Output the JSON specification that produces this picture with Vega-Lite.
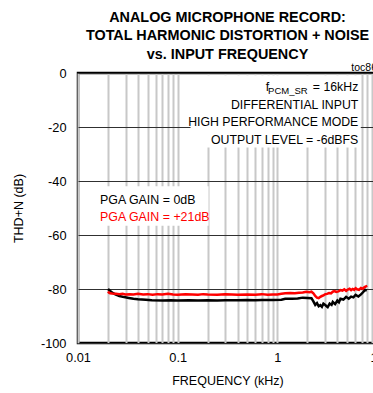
{
  "$schema": "https://vega.github.io/schema/vega-lite/v6.json",
  "width": 299,
  "height": 270,
  "autosize": {"type": "none"},
  "padding": {"left": 78, "top": 73, "right": 0, "bottom": 50},
  "background": "white",
  "config": {
    "font": "Liberation Sans",
    "view": {"stroke": "#000", "strokeWidth": 2.5},
    "axis": {
      "labelFont": "Liberation Sans",
      "titleFont": "Liberation Sans",
      "labelFontSize": 12.8,
      "titleFontSize": 12.5,
      "titleFontWeight": "normal",
      "labelColor": "#000",
      "titleColor": "#000",
      "domain": false,
      "ticks": false,
      "tickSize": 0
    }
  },
  "title": {
    "text": ["ANALOG MICROPHONE RECORD:", "TOTAL HARMONIC DISTORTION + NOISE", "vs. INPUT FREQUENCY"],
    "anchor": "middle",
    "frame": "group",
    "font": "Liberation Sans",
    "fontSize": 14.4,
    "fontWeight": "bold",
    "lineHeight": 18.5,
    "color": "#000",
    "offset": 1
  },
  "layer": [
    {
      "data": {"values": [
        {"series": "0dB", "freq": 0.02, "db": -80.0},
        {"series": "0dB", "freq": 0.021, "db": -80.7},
        {"series": "0dB", "freq": 0.022, "db": -81.3},
        {"series": "0dB", "freq": 0.0237, "db": -82.0},
        {"series": "0dB", "freq": 0.026, "db": -82.6},
        {"series": "0dB", "freq": 0.029, "db": -83.0},
        {"series": "0dB", "freq": 0.0323, "db": -83.3},
        {"series": "0dB", "freq": 0.036, "db": -83.6},
        {"series": "0dB", "freq": 0.04, "db": -83.8},
        {"series": "0dB", "freq": 0.0478, "db": -84.0},
        {"series": "0dB", "freq": 0.055, "db": -84.2},
        {"series": "0dB", "freq": 0.0707, "db": -84.3},
        {"series": "0dB", "freq": 0.085, "db": -84.2},
        {"series": "0dB", "freq": 0.1, "db": -84.3},
        {"series": "0dB", "freq": 0.13, "db": -84.2},
        {"series": "0dB", "freq": 0.16, "db": -84.3},
        {"series": "0dB", "freq": 0.2, "db": -84.2},
        {"series": "0dB", "freq": 0.25, "db": -84.3},
        {"series": "0dB", "freq": 0.3, "db": -84.2},
        {"series": "0dB", "freq": 0.4, "db": -84.2},
        {"series": "0dB", "freq": 0.5, "db": -84.1},
        {"series": "0dB", "freq": 0.6, "db": -84.2},
        {"series": "0dB", "freq": 0.7, "db": -84.1},
        {"series": "0dB", "freq": 0.9, "db": -84.1},
        {"series": "0dB", "freq": 1.1, "db": -84.0},
        {"series": "0dB", "freq": 1.2, "db": -83.6},
        {"series": "0dB", "freq": 1.4, "db": -83.6},
        {"series": "0dB", "freq": 1.6, "db": -83.5},
        {"series": "0dB", "freq": 1.8, "db": -83.2},
        {"series": "0dB", "freq": 2.0, "db": -83.3},
        {"series": "0dB", "freq": 2.2, "db": -83.4},
        {"series": "0dB", "freq": 2.3, "db": -84.6},
        {"series": "0dB", "freq": 2.4, "db": -85.9},
        {"series": "0dB", "freq": 2.5, "db": -85.2},
        {"series": "0dB", "freq": 2.6, "db": -86.4},
        {"series": "0dB", "freq": 2.7, "db": -86.0},
        {"series": "0dB", "freq": 2.8, "db": -86.6},
        {"series": "0dB", "freq": 2.9, "db": -85.4},
        {"series": "0dB", "freq": 3.0, "db": -85.8},
        {"series": "0dB", "freq": 3.1, "db": -86.3},
        {"series": "0dB", "freq": 3.2, "db": -86.7},
        {"series": "0dB", "freq": 3.35, "db": -85.4},
        {"series": "0dB", "freq": 3.5, "db": -85.9},
        {"series": "0dB", "freq": 3.6, "db": -84.8},
        {"series": "0dB", "freq": 3.8, "db": -85.6},
        {"series": "0dB", "freq": 4.0, "db": -84.3},
        {"series": "0dB", "freq": 4.15, "db": -84.9},
        {"series": "0dB", "freq": 4.3, "db": -83.6},
        {"series": "0dB", "freq": 4.6, "db": -83.9},
        {"series": "0dB", "freq": 4.9, "db": -82.9},
        {"series": "0dB", "freq": 5.2, "db": -83.6},
        {"series": "0dB", "freq": 5.5, "db": -82.8},
        {"series": "0dB", "freq": 5.8, "db": -83.1},
        {"series": "0dB", "freq": 6.1, "db": -82.2},
        {"series": "0dB", "freq": 6.5, "db": -82.8},
        {"series": "0dB", "freq": 6.9, "db": -82.0},
        {"series": "0dB", "freq": 7.2, "db": -81.3},
        {"series": "0dB", "freq": 7.6, "db": -80.3},
        {"series": "0dB", "freq": 7.9, "db": -80.6},
        {"series": "21dB", "freq": 0.02, "db": -80.9},
        {"series": "21dB", "freq": 0.0205, "db": -81.4},
        {"series": "21dB", "freq": 0.021, "db": -81.6},
        {"series": "21dB", "freq": 0.022, "db": -81.7},
        {"series": "21dB", "freq": 0.024, "db": -81.8},
        {"series": "21dB", "freq": 0.026, "db": -81.9},
        {"series": "21dB", "freq": 0.028, "db": -81.8},
        {"series": "21dB", "freq": 0.03, "db": -82.0},
        {"series": "21dB", "freq": 0.033, "db": -81.9},
        {"series": "21dB", "freq": 0.036, "db": -82.0},
        {"series": "21dB", "freq": 0.04, "db": -81.8},
        {"series": "21dB", "freq": 0.045, "db": -82.0},
        {"series": "21dB", "freq": 0.05, "db": -81.9},
        {"series": "21dB", "freq": 0.056, "db": -82.1},
        {"series": "21dB", "freq": 0.063, "db": -81.9},
        {"series": "21dB", "freq": 0.07, "db": -82.0},
        {"series": "21dB", "freq": 0.08, "db": -81.8},
        {"series": "21dB", "freq": 0.09, "db": -82.0},
        {"series": "21dB", "freq": 0.1, "db": -82.1},
        {"series": "21dB", "freq": 0.12, "db": -81.9},
        {"series": "21dB", "freq": 0.14, "db": -82.0},
        {"series": "21dB", "freq": 0.16, "db": -82.1},
        {"series": "21dB", "freq": 0.18, "db": -81.9},
        {"series": "21dB", "freq": 0.2, "db": -82.0},
        {"series": "21dB", "freq": 0.25, "db": -82.1},
        {"series": "21dB", "freq": 0.3, "db": -81.9},
        {"series": "21dB", "freq": 0.35, "db": -82.0},
        {"series": "21dB", "freq": 0.4, "db": -82.1},
        {"series": "21dB", "freq": 0.5, "db": -82.0},
        {"series": "21dB", "freq": 0.6, "db": -82.1},
        {"series": "21dB", "freq": 0.7, "db": -81.9},
        {"series": "21dB", "freq": 0.8, "db": -82.1},
        {"series": "21dB", "freq": 0.9, "db": -82.0},
        {"series": "21dB", "freq": 1.0, "db": -82.0},
        {"series": "21dB", "freq": 1.1, "db": -81.8},
        {"series": "21dB", "freq": 1.2, "db": -81.6},
        {"series": "21dB", "freq": 1.35, "db": -81.5},
        {"series": "21dB", "freq": 1.5, "db": -81.6},
        {"series": "21dB", "freq": 1.65, "db": -81.4},
        {"series": "21dB", "freq": 1.8, "db": -81.3},
        {"series": "21dB", "freq": 1.95, "db": -81.0},
        {"series": "21dB", "freq": 2.1, "db": -81.2},
        {"series": "21dB", "freq": 2.2, "db": -81.0},
        {"series": "21dB", "freq": 2.3, "db": -81.6},
        {"series": "21dB", "freq": 2.4, "db": -82.6},
        {"series": "21dB", "freq": 2.5, "db": -83.2},
        {"series": "21dB", "freq": 2.6, "db": -83.4},
        {"series": "21dB", "freq": 2.7, "db": -82.9},
        {"series": "21dB", "freq": 2.8, "db": -82.6},
        {"series": "21dB", "freq": 2.9, "db": -82.4},
        {"series": "21dB", "freq": 3.0, "db": -82.0},
        {"series": "21dB", "freq": 3.15, "db": -81.8},
        {"series": "21dB", "freq": 3.3, "db": -81.5},
        {"series": "21dB", "freq": 3.45, "db": -81.6},
        {"series": "21dB", "freq": 3.6, "db": -81.0},
        {"series": "21dB", "freq": 3.75, "db": -80.8},
        {"series": "21dB", "freq": 3.9, "db": -81.1},
        {"series": "21dB", "freq": 4.1, "db": -80.9},
        {"series": "21dB", "freq": 4.3, "db": -80.4},
        {"series": "21dB", "freq": 4.5, "db": -80.6},
        {"series": "21dB", "freq": 4.7, "db": -80.1},
        {"series": "21dB", "freq": 4.9, "db": -80.7},
        {"series": "21dB", "freq": 5.1, "db": -80.2},
        {"series": "21dB", "freq": 5.3, "db": -79.9},
        {"series": "21dB", "freq": 5.5, "db": -80.4},
        {"series": "21dB", "freq": 5.7, "db": -80.0},
        {"series": "21dB", "freq": 5.9, "db": -80.3},
        {"series": "21dB", "freq": 6.1, "db": -79.7},
        {"series": "21dB", "freq": 6.3, "db": -80.1},
        {"series": "21dB", "freq": 6.6, "db": -80.3},
        {"series": "21dB", "freq": 6.9, "db": -79.6},
        {"series": "21dB", "freq": 7.2, "db": -79.9},
        {"series": "21dB", "freq": 7.5, "db": -79.3},
        {"series": "21dB", "freq": 7.8, "db": -79.0},
        {"series": "21dB", "freq": 7.9, "db": -79.3}
      ]},
      "mark": {"type": "line", "strokeWidth": 2.5, "clip": true},
      "encoding": {
        "x": {
          "field": "freq",
          "type": "quantitative",
          "scale": {"type": "log", "domain": [0.01, 10]},
          "axis": {
            "title": "FREQUENCY (kHz)",
            "values": [0.01, 0.02, 0.03, 0.04, 0.05, 0.06, 0.07, 0.08, 0.09, 0.1, 0.2, 0.3, 0.4, 0.5, 0.6, 0.7, 0.8, 0.9, 1, 2, 3, 4, 5, 6, 7, 8, 9, 10],
            "labelExpr": "indexof([0.01, 0.1, 1, 10], datum.value) >= 0 ? format(datum.value, '~g') : ''",
            "labelOverlap": false,
            "labelFlush": false,
            "labelPadding": 8,
            "titlePadding": 11,
            "gridColor": "#c8c8c8",
            "gridWidth": 2,
            "zindex": 0
          }
        },
        "y": {
          "field": "db",
          "type": "quantitative",
          "scale": {"domain": [-100, 0], "nice": false},
          "axis": {
            "title": "THD+N (dB)",
            "values": [-100, -90, -80, -70, -60, -50, -40, -30, -20, -10, 0],
            "labelExpr": "'' + datum.value",
            "labelPadding": 12,
            "titlePadding": 15,
            "gridColor": "#303030",
            "gridWidth": 1,
            "labelFlush": false,
            "zindex": 0
          }
        },
        "color": {
          "field": "series",
          "type": "nominal",
          "scale": {"domain": ["0dB", "21dB"], "range": ["#000000", "#ff0000"]},
          "legend": null
        }
      }
    },
    {
      "data": {"values": [{}]},
      "mark": {"type": "rect", "fill": "white"},
      "encoding": {
        "x": {"datum": 0.1345},
        "x2": {"datum": 6.87},
        "y": {"datum": -0.8},
        "y2": {"datum": -27.6}
      }
    },
    {
      "data": {"values": [{}]},
      "mark": {"type": "rect", "fill": "white"},
      "encoding": {
        "x": {"datum": 0.016},
        "x2": {"datum": 0.204},
        "y": {"datum": -41.9},
        "y2": {"datum": -56.6}
      }
    },
    {
      "data": {"values": [{}]},
      "mark": {"type": "text", "align": "right", "baseline": "alphabetic", "fontSize": 12.3, "lineHeight": 17.3, "color": "#000"},
      "encoding": {
        "x": {"datum": 6.49},
        "y": {"datum": -13.4},
        "text": {"value": ["DIFFERENTIAL INPUT", "HIGH PERFORMANCE MODE", "OUTPUT LEVEL = -6dBFS"]}
      }
    },
    {
      "data": {"values": [{}]},
      "mark": {"type": "text", "align": "right", "baseline": "alphabetic", "fontSize": 12.3, "color": "#000"},
      "encoding": {
        "x": {"datum": 6.49},
        "y": {"datum": -6.74},
        "text": {"value": "= 16kHz"}
      }
    },
    {
      "data": {"values": [{}]},
      "mark": {"type": "text", "align": "right", "baseline": "alphabetic", "fontSize": 9.5, "color": "#000"},
      "encoding": {
        "x": {"datum": 2.016},
        "y": {"datum": -7.7},
        "text": {"value": "PCM_SR"}
      }
    },
    {
      "data": {"values": [{}]},
      "mark": {"type": "text", "align": "right", "baseline": "alphabetic", "fontSize": 12.3, "color": "#000"},
      "encoding": {
        "x": {"datum": 0.83},
        "y": {"datum": -6.74},
        "text": {"value": "f"}
      }
    },
    {
      "data": {"values": [{}]},
      "mark": {"type": "text", "align": "right", "baseline": "alphabetic", "fontSize": 10.5, "dy": -2, "color": "#000"},
      "encoding": {
        "x": {"datum": 10},
        "y": {"datum": 0},
        "text": {"value": "toc86"}
      }
    },
    {
      "data": {"values": [
        {"label": "PGA GAIN = 0dB", "series": "0dB", "db": -48.6},
        {"label": "PGA GAIN = +21dB", "series": "21dB", "db": -54.7}
      ]},
      "mark": {"type": "text", "align": "left", "baseline": "alphabetic", "fontSize": 12.4},
      "encoding": {
        "x": {"datum": 0.01664},
        "y": {"field": "db", "type": "quantitative"},
        "text": {"field": "label"},
        "color": {"field": "series", "type": "nominal", "legend": null}
      }
    }
  ]
}
